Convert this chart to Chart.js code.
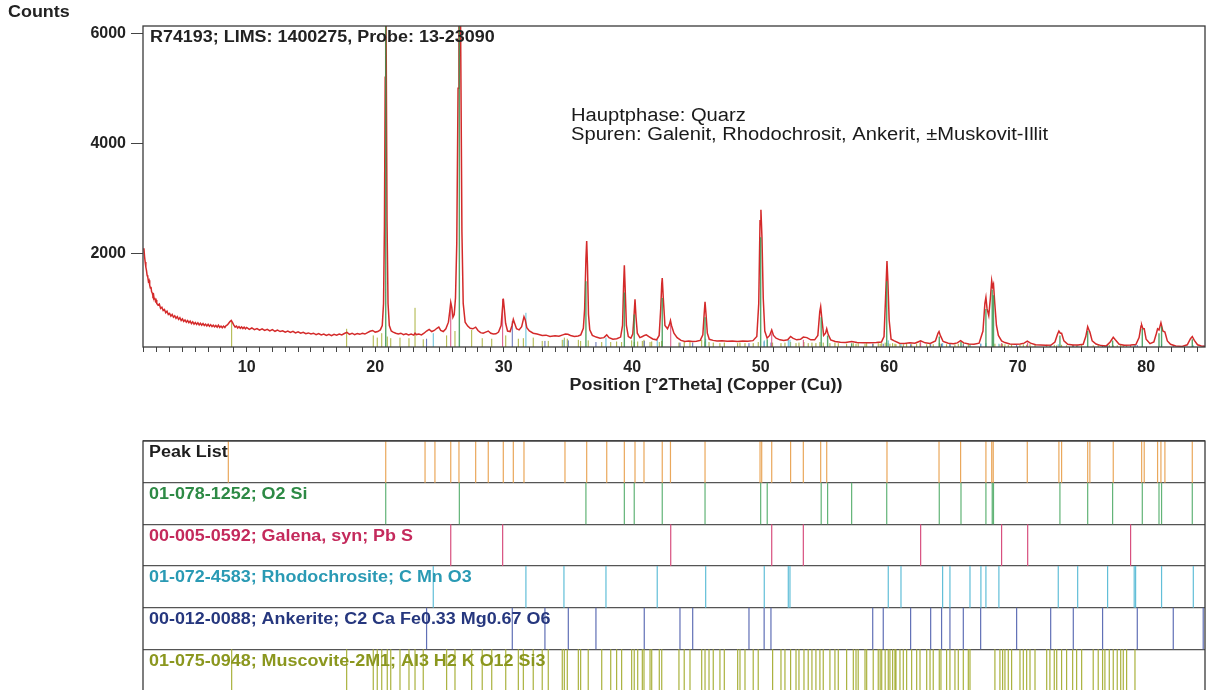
<!DOCTYPE html>
<html>
<head>
<meta charset="utf-8">
<script src="https://cdn.jsdelivr.net/npm/chart.js@4.4.1/dist/chart.umd.min.js"></script>
<style>
  html, body { margin: 0; padding: 0; background: #fff; overflow: hidden; }
  #wrap { position: relative; width: 1207px; height: 690px; }
  #scanBox { position: absolute; left: 0; top: 0; width: 1207px; height: 400px; }
  #refBox { position: absolute; left: 0; top: 400px; width: 1207px; height: 292px; }
</style>
</head>
<body>
<div id="wrap">
  <div id="scanBox"><canvas id="scanChart"></canvas></div>
  <div id="refBox"><canvas id="refChart"></canvas></div>
</div>
<script>
Chart.defaults.font.family = "'Liberation Sans', Arial, sans-serif";
Chart.defaults.color = "#222";

// axes
const xRange = [1.93, 84.58];
const yRange = [310, 6130];
const yTickValues = [2000, 4000, 6000];
const xLabelValues = [10, 20, 30, 40, 50, 60, 70, 80];

// texts
const sampleTitle = "R74193; LIMS: 1400275, Probe: 13-23090";
const noteLines = ["Hauptphase: Quarz", "Spuren: Galenit, Rhodochrosit, Ankerit, \u00b1Muskovit-Illit"];
const xTitle = "Position [\u00b02Theta] (Copper (Cu))";
const yTitle = "Counts";

// measured scan: [2theta, counts]
const scan = [
  [2.00,2100],[2.05,1950],[2.10,1850],[2.15,1760],[2.20,1700],[2.25,1610],[2.30,1580],[2.35,1500],[2.40,1520],[2.45,1430],
  [2.50,1380],[2.55,1400],[2.60,1310],[2.65,1290],[2.70,1240],[2.75,1260],[2.80,1180],[2.85,1200],[2.90,1140],[2.95,1160],
  [3.00,1100],[3.10,1070],[3.20,1090],[3.30,1010],[3.40,1030],[3.50,970],[3.60,990],[3.70,930],[3.80,960],[3.90,900],
  [4.00,920],[4.10,870],[4.20,900],[4.30,850],[4.40,875],[4.50,830],[4.60,860],[4.70,810],[4.80,840],[4.90,790],
  [5.00,820],[5.10,775],[5.20,800],[5.30,760],[5.40,790],[5.50,750],[5.60,780],[5.70,735],[5.80,765],[5.90,725],
  [6.00,755],[6.10,720],[6.20,750],[6.30,710],[6.40,740],[6.50,705],[6.60,735],[6.70,700],[6.80,725],[6.90,690],
  [7.00,720],[7.10,685],[7.20,715],[7.30,680],[7.40,705],[7.50,675],[7.60,700],[7.70,670],[7.80,705],[7.90,665],
  [8.00,690],[8.10,660],[8.20,690],[8.30,665],[8.40,700],[8.50,710],[8.60,740],[8.70,770],[8.80,790],[8.90,750],
  [9.00,705],[9.10,670],[9.20,690],[9.30,655],[9.40,680],[9.50,650],[9.60,675],[9.70,645],[9.80,670],[9.90,640],
  [10.0,665],[10.2,630],[10.4,655],[10.6,625],[10.8,645],[11.0,615],[11.2,640],[11.4,610],[11.6,630],[11.8,600],
  [12.0,625],[12.2,595],[12.4,615],[12.6,590],[12.8,605],[13.0,580],[13.2,600],[13.4,575],[13.6,595],[13.8,565],
  [14.0,585],[14.2,560],[14.4,575],[14.6,550],[14.8,565],[15.0,545],[15.2,560],[15.4,535],[15.6,555],[15.8,530],
  [16.0,545],[16.2,520],[16.4,540],[16.6,515],[16.8,540],[17.0,525],[17.2,545],[17.4,530],[17.6,555],[17.8,575],
  [18.0,540],[18.2,560],[18.4,535],[18.6,555],[18.8,540],[19.0,560],[19.2,545],[19.4,570],[19.6,595],[19.8,610],
  [20.0,580],[20.2,590],[20.4,620],[20.55,700],[20.65,1100],[20.72,2500],[20.78,5200],[20.82,7400],[20.86,5600],[20.92,2600],
  [21.0,1100],[21.1,700],[21.25,600],[21.4,580],[21.6,560],[21.8,545],[22.0,560],[22.2,535],[22.4,550],[22.6,530],
  [22.8,545],[23.0,525],[23.1,560],[23.2,535],[23.4,545],[23.6,530],[23.8,560],[24.0,600],[24.2,630],[24.4,590],
  [24.6,610],[24.8,650],[24.95,670],[25.1,610],[25.3,590],[25.5,640],[25.7,760],[25.8,950],[25.88,1120],[25.96,1030],
  [26.05,850],[26.15,900],[26.25,1200],[26.35,2200],[26.45,5000],[26.52,9000],[26.58,9500],[26.65,6000],[26.75,2400],[26.85,1100],
  [27.0,760],[27.2,690],[27.4,650],[27.6,640],[27.82,670],[28.0,610],[28.2,570],[28.4,560],[28.6,580],[28.8,600],
  [29.0,560],[29.2,545],[29.4,550],[29.6,580],[29.8,700],[29.9,1000],[29.97,1190],[30.05,1000],[30.15,740],[30.3,600],
  [30.5,590],[30.65,700],[30.75,810],[30.85,740],[31.0,640],[31.2,620],[31.4,680],[31.5,780],[31.58,860],[31.68,800],
  [31.8,660],[32.0,600],[32.3,560],[32.6,545],[33.0,520],[33.3,525],[33.6,500],[34.0,515],[34.3,505],[34.6,530],
  [34.8,545],[35.0,540],[35.2,520],[35.5,500],[35.8,510],[36.0,530],[36.2,650],[36.3,1000],[36.4,1900],[36.46,2230],
  [36.52,1800],[36.6,900],[36.7,620],[36.9,520],[37.2,490],[37.5,470],[37.8,480],[38.02,530],[38.2,480],[38.5,450],
  [38.8,460],[39.1,490],[39.25,700],[39.33,1400],[39.39,1790],[39.45,1400],[39.55,700],[39.7,500],[39.9,470],[40.05,550],
  [40.15,900],[40.22,1175],[40.3,850],[40.4,560],[40.6,480],[40.8,500],[40.95,520],[41.1,530],[41.3,500],[41.6,455],
  [41.9,440],[42.1,520],[42.22,1000],[42.3,1450],[42.34,1560],[42.42,1200],[42.55,700],[42.75,640],[42.9,720],[42.98,790],
  [43.06,700],[43.25,560],[43.5,480],[43.8,430],[44.1,410],[44.4,420],[44.7,410],[45.0,415],[45.3,430],[45.5,530],
  [45.6,900],[45.67,1130],[45.75,900],[45.85,560],[46.0,450],[46.3,430],[46.6,420],[47.0,425],[47.4,415],[47.8,420],
  [48.2,410],[48.6,420],[49.0,415],[49.4,425],[49.7,500],[49.85,1100],[49.95,2600],[50.02,2800],[50.1,2300],[50.2,1200],
  [50.32,600],[50.5,470],[50.7,520],[50.86,620],[51.0,520],[51.2,470],[51.5,440],[51.8,430],[52.1,440],[52.33,500],
  [52.5,470],[52.8,440],[53.1,450],[53.32,490],[53.6,480],[53.9,440],[54.2,440],[54.45,520],[54.6,950],[54.67,1040],
  [54.75,850],[54.9,520],[55.05,560],[55.14,640],[55.25,540],[55.45,440],[55.8,410],[56.2,395],[56.6,390],[57.08,410],
  [57.5,390],[58.0,385],[58.5,385],[59.0,390],[59.4,400],[59.6,500],[59.72,1200],[59.83,1870],[59.9,1500],[60.0,800],
  [60.15,450],[60.4,420],[60.8,380],[61.2,375],[61.6,385],[62.0,380],[62.45,420],[62.8,385],[63.2,375],[63.6,420],
  [63.8,560],[63.88,590],[63.98,520],[64.2,410],[64.6,380],[65.0,370],[65.3,385],[65.56,425],[65.8,385],[66.2,365],
  [66.6,360],[67.0,380],[67.3,600],[67.45,1100],[67.53,1210],[67.62,1000],[67.75,880],[67.88,1200],[67.98,1510],[68.05,1400],
  [68.12,1450],[68.22,1100],[68.35,700],[68.5,520],[68.75,420],[69.0,390],[69.4,365],[69.8,360],[70.2,365],[70.5,380],
  [70.75,415],[71.0,380],[71.4,350],[71.8,345],[72.2,340],[72.6,345],[72.9,400],[73.1,540],[73.21,600],[73.32,560],
  [73.42,560],[73.6,420],[73.9,360],[74.3,345],[74.7,345],[75.1,360],[75.3,500],[75.45,680],[75.55,620],[75.62,580],
  [75.8,420],[76.1,365],[76.5,335],[76.9,330],[77.2,400],[77.44,485],[77.6,440],[77.9,360],[78.3,340],[78.8,345],
  [79.2,355],[79.45,480],[79.6,690],[79.65,710],[79.75,640],[79.85,640],[80.0,450],[80.3,370],[80.6,400],[80.8,560],
  [80.89,640],[81.0,620],[81.15,750],[81.3,600],[81.46,580],[81.65,420],[81.9,360],[82.3,330],[82.8,320],[83.2,350],
  [83.45,460],[83.59,500],[83.75,430],[84.0,350],[84.3,330],[84.6,325]
];

// peak list and reference patterns (2theta), with stick tops in the scan panel (counts)
const peakList = [8.57,20.82,23.88,24.65,25.88,26.52,27.82,28.80,29.97,30.75,31.58,34.77,36.46,38.02,39.39,40.22,40.92,42.34,42.98,45.67,
  49.95,50.08,50.86,52.33,53.32,54.67,55.14,59.83,63.88,65.56,67.53,67.98,68.10,70.75,73.21,73.42,75.45,75.62,77.44,79.65,
  79.85,80.89,81.15,81.46,83.59];

const quartzPos = [20.82,26.55,36.40,39.39,40.16,42.34,45.67,50.00,50.51,54.71,55.21,57.08,59.81,63.90,65.59,67.53,68.02,68.12,73.29,75.45,
  77.39,79.70,81.00,81.20,83.59];
const quartzTop = [6500,9000,1500,1300,900,1200,850,2300,450,850,520,380,1500,500,400,1000,1350,1250,520,600,
  430,640,560,680,450];

const galenaPos = [25.88,29.92,43.00,50.86,53.32,62.45,68.75,70.78,78.79,84.60];
const galenaTop = [1100,1180,720,560,440,400,380,390,350,350];

const rhodoPos = [24.52,31.73,34.69,37.96,41.95,45.72,50.28,52.15,52.28,59.93,60.92,64.16,64.73,66.29,67.14,67.53,68.54,73.16,74.67,77.00,
  79.07,79.18,81.20,83.67];
const rhodoTop = [560,930,440,480,440,460,430,450,440,430,370,380,370,360,370,380,370,360,350,350,
  350,350,360,340];

const ankeritePos = [24.00,30.67,33.21,35.03,37.18,40.94,43.72,44.71,49.09,50.27,50.80,58.72,59.54,61.67,63.23,64.08,64.73,65.77,67.12,69.92,
  72.57,74.33,76.61,79.31,82.11,84.44];
const ankeriteTop = [460,780,420,430,400,420,390,390,380,410,390,370,370,360,360,370,360,360,370,350,
  350,350,345,345,340,340];

const muscovitePos = [8.83,17.78,19.85,20.16,20.51,20.94,21.21,21.93,22.63,23.10,23.74,25.56,26.21,27.51,28.33,29.07,30.16,31.14,31.53,32.30,
  33.00,33.47,34.56,34.72,34.95,35.81,35.99,36.58,37.63,38.33,38.79,39.18,39.96,40.16,40.43,40.79,40.92,41.39,41.52,42.11,
  42.30,43.64,44.05,44.50,45.41,45.67,45.98,46.31,46.83,47.17,48.21,48.39,48.78,49.42,49.81,50.93,51.58,51.89,52.33,52.75,
  52.98,53.37,53.70,53.99,54.30,54.61,54.87,55.39,55.78,56.04,56.69,57.21,57.42,57.59,58.12,58.25,58.76,59.15,59.30,59.42,
  59.69,59.93,60.06,60.27,60.45,60.53,60.84,61.10,61.36,61.75,62.14,62.40,62.92,63.18,63.43,63.90,64.03,64.47,64.73,65.12,
  65.38,65.77,66.16,66.29,68.23,68.62,68.83,69.01,69.27,69.53,70.18,70.44,70.70,70.96,71.35,72.26,72.51,72.85,73.04,73.42,
  73.81,74.28,74.59,74.98,75.88,76.27,76.61,76.79,77.13,77.44,77.75,78.02,78.22,78.48,79.13];
const muscoviteTop = [760,640,520,480,560,500,470,480,470,1020,450,520,600,620,470,460,520,460,470,480,
  420,420,440,480,460,440,420,430,400,400,410,400,430,400,410,420,440,400,410,400,
  420,390,400,420,440,410,400,390,380,390,380,390,380,380,400,390,380,390,400,380,
  390,400,380,390,380,400,390,380,390,380,370,380,370,380,370,380,370,380,370,380,
  390,380,370,380,370,360,370,360,370,360,370,380,360,370,360,380,370,360,370,360,
  370,380,360,360,370,360,370,360,350,360,350,360,350,360,350,350,340,350,340,350,
  340,350,340,350,340,350,340,340,350,340,340,350,340,340,340];

// lower panel rows
const rowLabels = ["Peak List", "01-078-1252; O2 Si", "00-005-0592; Galena, syn; Pb S",
  "01-072-4583; Rhodochrosite; C Mn O3", "00-012-0088; Ankerite; C2 Ca Fe0.33 Mg0.67 O6",
  "01-075-0948; Muscovite-2M1; Al3 H2 K O12 Si3"];
const rowTextColors = ["#1e1e1e", "#2d8a45", "#c42a5c", "#2a9ab4", "#26377e", "#8b971f"];
const rowStickColors = ["#eaa85c", "#62b477", "#d8507f", "#62bfd8", "#6170b6", "#aab23e"];
const rowPositions = [peakList, quartzPos, galenaPos, rhodoPos, ankeritePos, muscovitePos];

function stickPoints(pos, tops, base) {
  const pts = [];
  pos.forEach((p, i) => {
    pts.push({ x: p, y: base }, { x: p, y: tops[i] }, { x: p, y: null });
  });
  return pts;
}

function rowPoints(pos, row) {
  const pts = [];
  pos.forEach(p => {
    pts.push({ x: p, y: row }, { x: p, y: row + 1 }, { x: p, y: null });
  });
  return pts;
}

function stickSet(data, color, order, width) {
  return {
    data: data,
    borderColor: color,
    borderWidth: width || 1,
    pointRadius: 0,
    tension: 0,
    spanGaps: false,
    order: order
  };
}

// text with the slight horizontal stretch of the original print
function stretchedText(ctx, text, x, y, font, color, align) {
  ctx.save();
  ctx.font = font;
  ctx.fillStyle = color;
  ctx.textBaseline = "middle";
  ctx.textAlign = align || "left";
  ctx.translate(x, y);
  ctx.scale(1.12, 1);
  ctx.fillText(text, 0, 0);
  ctx.restore();
}

const framePlugin = {
  id: "frame",
  afterDatasetsDraw(chart) {
    const { ctx, chartArea: a } = chart;
    ctx.save();
    ctx.strokeStyle = "#3a3a3a";
    ctx.lineWidth = 1.3;
    ctx.strokeRect(a.left, a.top, a.right - a.left, a.bottom - a.top);
    ctx.restore();
  }
};

const scanTextPlugin = {
  id: "scanText",
  afterDraw(chart) {
    const { ctx, chartArea: a } = chart;
    const bold = "bold 16px 'Liberation Sans', Arial, sans-serif";
    stretchedText(ctx, yTitle, 8, 13, bold, "#222");
    stretchedText(ctx, sampleTitle, a.left + 7, a.top + 12, bold, "#222");
    stretchedText(ctx, xTitle, 706, 386, bold, "#222", "center");
    const plain = "18px 'Liberation Sans', Arial, sans-serif";
    stretchedText(ctx, noteLines[0], 571, 116, plain, "#1a1a1a");
    stretchedText(ctx, noteLines[1], 571, 135, plain, "#1a1a1a");
  }
};

const rowTextPlugin = {
  id: "rowText",
  afterDatasetsDraw(chart) {
    const { ctx } = chart;
    const yScale = chart.scales.y;
    const bold = "bold 16px 'Liberation Sans', Arial, sans-serif";
    rowLabels.forEach((label, i) => {
      stretchedText(ctx, label, chart.chartArea.left + 6, yScale.getPixelForValue(i) + 12, bold, rowTextColors[i]);
    });
  }
};

// upper panel: scan with reference sticks
new Chart(document.getElementById("scanChart"), {
  type: "line",
  data: {
    datasets: [
      {
        data: scan.map(([x, y]) => ({ x, y })),
        borderColor: "#d42a2a",
        borderWidth: 1.5,
        pointRadius: 0,
        tension: 0,
        order: 2
      },
      stickSet(stickPoints(quartzPos, quartzTop, yRange[0]), "rgba(56,150,80,0.85)", 1, 1.4),
      stickSet(stickPoints(galenaPos, galenaTop, yRange[0]), rowStickColors[2], 3),
      stickSet(stickPoints(rhodoPos, rhodoTop, yRange[0]), rowStickColors[3], 3),
      stickSet(stickPoints(ankeritePos, ankeriteTop, yRange[0]), rowStickColors[4], 3),
      stickSet(stickPoints(muscovitePos, muscoviteTop, yRange[0]), rowStickColors[5], 4)
    ]
  },
  options: {
    responsive: true,
    maintainAspectRatio: false,
    animation: false,
    layout: { padding: { top: 26, right: 2, left: 0, bottom: 0 } },
    plugins: { legend: { display: false }, tooltip: { enabled: false } },
    scales: {
      x: {
        type: "linear",
        min: xRange[0],
        max: xRange[1],
        afterBuildTicks: s => {
          const t = [];
          for (let v = Math.ceil(xRange[0]); v <= xRange[1]; v++) t.push({ value: v });
          s.ticks = t;
        },
        ticks: {
          autoSkip: false,
          maxRotation: 0,
          padding: 6,
          color: "#222",
          font: { size: 16, weight: "bold" },
          callback: v => (xLabelValues.includes(v) ? String(v) : "")
        },
        grid: { drawOnChartArea: false, tickLength: 5, color: "#444" },
        border: { display: false },
        afterFit: s => { s.height = 53; }
      },
      y: {
        min: yRange[0],
        max: yRange[1],
        afterBuildTicks: s => { s.ticks = yTickValues.map(v => ({ value: v })); },
        ticks: { padding: 5, color: "#222", font: { size: 16, weight: "bold" }, callback: v => String(v) },
        grid: { drawOnChartArea: false, tickLength: 12, color: "#444" },
        border: { display: false },
        afterFit: s => { s.width = 143; }
      }
    }
  },
  plugins: [framePlugin, scanTextPlugin]
});

// lower panel: stick patterns per phase
new Chart(document.getElementById("refChart"), {
  type: "line",
  data: {
    datasets: rowPositions.map((pos, i) => stickSet(rowPoints(pos, i), rowStickColors[i], 1, 1.2))
  },
  options: {
    responsive: true,
    maintainAspectRatio: false,
    animation: false,
    layout: { padding: { top: 41, right: 2, left: 143, bottom: 1 } },
    plugins: { legend: { display: false }, tooltip: { enabled: false } },
    scales: {
      x: { type: "linear", min: xRange[0], max: xRange[1], display: false },
      y: {
        min: 0,
        max: rowLabels.length,
        reverse: true,
        afterBuildTicks: s => { s.ticks = rowLabels.concat([""]).map((_, i) => ({ value: i })); },
        ticks: { display: false },
        grid: { color: "#555", lineWidth: 1.2, drawTicks: false },
        border: { display: false },
        afterFit: s => { s.width = 0; }
      }
    }
  },
  plugins: [framePlugin, rowTextPlugin]
});
</script>
</body>
</html>
